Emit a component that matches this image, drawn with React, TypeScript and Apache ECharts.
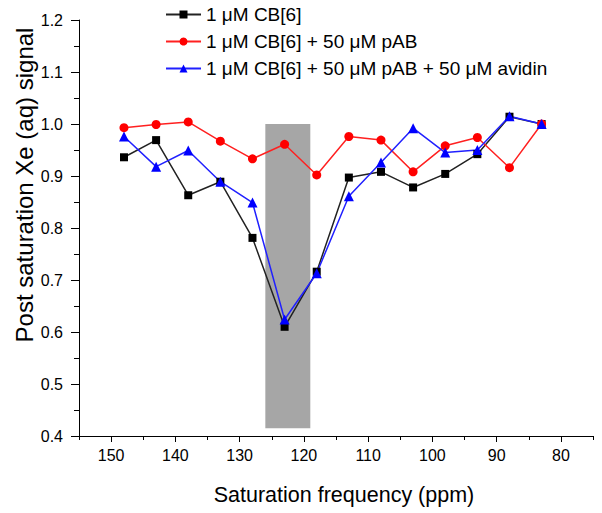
import React, { useEffect, useRef } from "react";
import * as echarts from "echarts";

const freq = [148, 143, 138, 133, 128, 123, 118, 113, 108, 103, 98, 93, 88, 83];
const cb6 = [0.936, 0.969, 0.863, 0.889, 0.781, 0.61, 0.716, 0.897, 0.908, 0.878, 0.904, 0.942, 1.014, 1.0];
const cb6pab = [0.993, 0.999, 1.004, 0.967, 0.933, 0.961, 0.902, 0.976, 0.969, 0.908, 0.958, 0.974, 0.916, 1.0];
const cb6pabAvidin = [0.976, 0.918, 0.949, 0.889, 0.849, 0.624, 0.713, 0.861, 0.926, 0.992, 0.945, 0.95, 1.015, 1.0];
const seriesNames = [
  "1 \u03bcM CB[6]",
  "1 \u03bcM CB[6] + 50 \u03bcM pAB",
  "1 \u03bcM CB[6] + 50 \u03bcM pAB + 50 \u03bcM avidin",
];
const band = { from: 126, to: 119, low: 0.415, high: 1.0 };
const xMajorTicks = [80, 90, 100, 110, 120, 130, 140, 150];
const xMinorTicks = [75, 85, 95, 105, 115, 125, 135, 145, 155];
const xTitle = "Saturation frequency (ppm)";
const yTitle = "Post saturation Xe (aq) signal";

const FONT = "'Liberation Sans', Arial, sans-serif";

export default function App() {
  const ref = useRef<HTMLDivElement>(null);
  useEffect(() => {
    if (!ref.current) return;
    document.body.style.margin = "0";
    const chart = echarts.init(ref.current, null, { renderer: "svg" });
    const pair = (ys: number[]) => freq.map((f, i) => [f, ys[i]]);
    const baseX = {
      type: "value",
      min: 75,
      max: 155,
      inverse: true,
      splitLine: { show: false },
    };
    chart.setOption({
      animation: false,
      backgroundColor: "#ffffff",
      grid: { left: 79, right: 9, top: 20, bottom: 77, containLabel: false },
      legend: {
        orient: "vertical",
        left: 160,
        top: 0,
        itemWidth: 35,
        itemHeight: 10,
        itemGap: 8,
        textStyle: { fontFamily: FONT, fontSize: 19, color: "#000" },
        data: seriesNames,
      },
      xAxis: [
        {
          ...baseX,
          axisLine: { show: true, lineStyle: { color: "#000", width: 1 } },
          axisTick: { show: true, length: 6, customValues: xMajorTicks, lineStyle: { color: "#000" } },
          axisLabel: {
            customValues: xMajorTicks,
            margin: 11,
            fontFamily: FONT,
            fontSize: 16,
            color: "#000",
          },
        },
        {
          ...baseX,
          position: "bottom",
          axisLine: { show: false },
          axisTick: { show: true, length: 4, customValues: xMinorTicks, lineStyle: { color: "#000" } },
          axisLabel: { show: false },
        },
      ],
      yAxis: {
        type: "value",
        min: 0.4,
        max: 1.2,
        interval: 0.1,
        splitLine: { show: false },
        axisLine: { show: true, lineStyle: { color: "#000", width: 1 } },
        axisTick: { show: true, length: 8, lineStyle: { color: "#000" } },
        minorTick: { show: true, splitNumber: 2, length: 5, lineStyle: { color: "#000" } },
        axisLabel: {
          margin: 16,
          fontFamily: FONT,
          fontSize: 16,
          color: "#000",
          formatter: (v: number) => v.toFixed(1),
        },
      },
      graphic: [
        {
          type: "text",
          x: 24,
          y: 185,
          rotation: Math.PI / 2,
          style: {
            text: yTitle,
            font: `24px ${FONT}`,
            fill: "#000",
            align: "center",
            verticalAlign: "middle",
            textAlign: "center",
            textVerticalAlign: "middle",
          },
        },
        {
          type: "text",
          x: 344,
          y: 495,
          style: {
            text: xTitle,
            font: `21.5px ${FONT}`,
            fill: "#000",
            align: "center",
            verticalAlign: "middle",
            textAlign: "center",
            textVerticalAlign: "middle",
          },
        },
      ],
      series: [
        {
          name: "band",
          type: "line",
          data: [],
          silent: true,
          markArea: {
            silent: true,
            itemStyle: { color: "#a6a6a6", opacity: 1 },
            data: [[{ xAxis: band.from, yAxis: band.low }, { xAxis: band.to, yAxis: band.high }]],
          },
        },
        {
          name: seriesNames[0],
          type: "line",
          data: pair(cb6),
          symbol: "rect",
          symbolSize: 8,
          itemStyle: { color: "#000" },
          lineStyle: { color: "#222", width: 1.5 },
        },
        {
          name: seriesNames[1],
          type: "line",
          data: pair(cb6pab),
          symbol: "circle",
          symbolSize: 9,
          itemStyle: { color: "#ff0000" },
          lineStyle: { color: "#ff2020", width: 1.5 },
        },
        {
          name: seriesNames[2],
          type: "line",
          data: pair(cb6pabAvidin),
          symbol: "triangle",
          symbolSize: 10,
          itemStyle: { color: "#0000ff" },
          lineStyle: { color: "#2020ff", width: 1.5 },
        },
      ],
    });
    return () => chart.dispose();
  }, []);
  return <div ref={ref} style={{ width: 602, height: 513 }} />;
}
